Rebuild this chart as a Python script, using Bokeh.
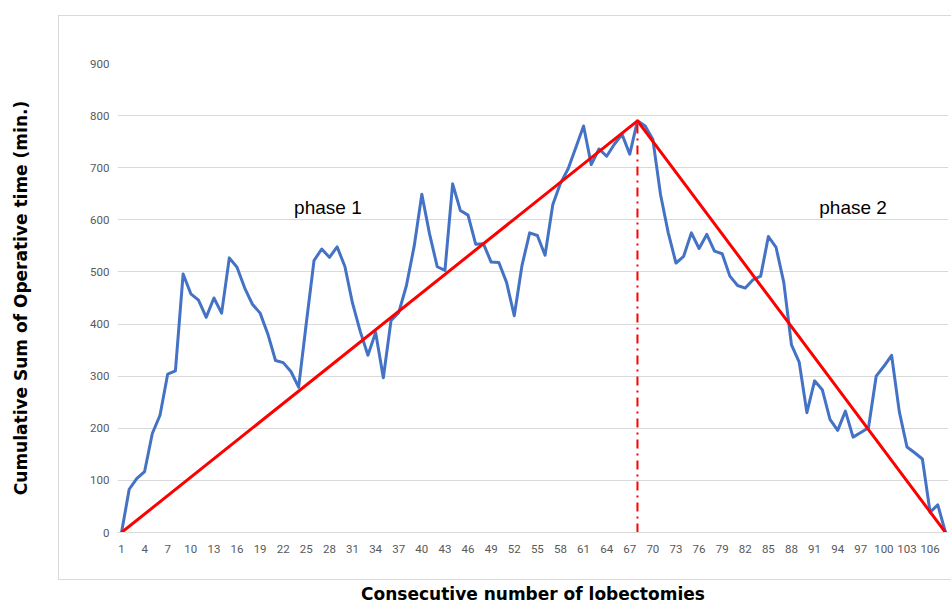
from bokeh.plotting import figure
from bokeh.models import Range1d, FixedTicker, ColumnDataSource
from bokeh.core.properties import value
from bokeh.embed import file_html
from bokeh.resources import INLINE

# ---- data -------------------------------------------------------------
case_no = list(range(1, 109))
cusum = [
    0, 83, 104, 117, 190, 225, 304, 310, 496, 458,
    446, 413, 450, 421, 527, 509, 469, 438, 421, 381,
    330, 326, 309, 279, 402, 522, 544, 528, 548, 511,
    440, 386, 340, 384, 297, 407, 422, 474, 549, 649,
    573, 510, 503, 669, 618, 609, 553, 554, 519, 518,
    480, 416, 512, 575, 570, 532, 629, 670, 698, 739,
    780, 706, 736, 722, 745, 764, 726, 790, 780, 754,
    648, 575, 517, 530, 575, 545, 572, 540, 535, 492,
    474, 469, 485, 492, 568, 547, 480, 360, 327, 230,
    291, 274, 217, 196, 233, 183, 192, 201, 300, 319,
    340, 232, 164, 153, 141, 39, 53, 0,
]
trend_x = [1, 68, 108]
trend_y = [0, 790, 0]
split_x = [68, 68]
split_y = [0, 790]
phase_x = [27.8, 96.0]
phase_y = [624, 624]
phase_labels = ["phase 1", "phase 2"]
x_ticks = [1, 4, 7, 10, 13, 16, 19, 22, 25, 28, 31, 34, 37, 40, 43, 46, 49, 52,
           55, 58, 61, 64, 67, 70, 73, 76, 79, 82, 85, 88, 91, 94, 97, 100, 103, 106]
y_ticks = [0, 100, 200, 300, 400, 500, 600, 700, 800, 900]

# light border of the chart area (CSS overlay on the figure element)
panel_css = """
:host { position: relative; }
:host::after {
  content: '';
  position: absolute;
  left: 58px; top: 15px; width: 900px; height: 563px;
  border: 1px solid #d9d9d9;
  pointer-events: none;
}
"""

# ---- figure -----------------------------------------------------------
p = figure(frame_width=831, frame_height=469,
           output_backend="svg", toolbar_location=None,
           x_range=Range1d(0.48, 108.39), y_range=Range1d(0, 900),
           min_border_left=117, min_border_right=1,
           min_border_top=63, min_border_bottom=10,
           stylesheets=[panel_css])
p.outline_line_color = None
p.background_fill_color = "white"
p.border_fill_color = "white"

tick_font = "'Liberation Sans Narrow', 'Roboto', sans-serif"
for ax in (p.xaxis[0], p.yaxis[0]):
    ax.major_tick_line_color = None
    ax.minor_tick_line_color = None
    ax.major_label_text_color = "#595959"
    ax.major_label_text_font = tick_font
    ax.major_label_text_font_size = "11.5px"
    ax.axis_label_text_font = "DejaVu Sans"
    ax.axis_label_text_font_style = "bold"
    ax.axis_label_text_font_size = "17px"
    ax.axis_label_text_color = "#000000"

p.xaxis.ticker = FixedTicker(ticks=x_ticks)
p.yaxis.ticker = FixedTicker(ticks=y_ticks)
p.xaxis.axis_line_color = "#d9d9d9"
p.yaxis.axis_line_color = None
p.xaxis.major_label_standoff = 6
p.yaxis.major_label_standoff = 2
p.xaxis.axis_label_standoff = 28
p.yaxis.axis_label_standoff = 56
p.xaxis.axis_label = "Consecutive number of lobectomies"
p.yaxis.axis_label = "Cumulative Sum of Operative time (min.)"

p.xgrid.grid_line_color = None
p.ygrid.grid_line_color = "#d9d9d9"
p.ygrid.grid_line_width = 1

src = ColumnDataSource(dict(x=case_no, y=cusum))
p.line("x", "y", source=src, line_color="#4472C4", line_width=3,
       line_join="round")
p.line(trend_x, trend_y, line_color="#FF0000", line_width=3)
p.line(split_x, split_y, line_color="#FF0000", line_width=2,
       line_dash="9 5 2 5")

p.text(x=phase_x, y=phase_y, text=phase_labels,
       text_font=value("Liberation Sans"), text_font_size="19px",
       text_color="#000000", text_align="center", text_baseline="middle")

open("out.html", "w").write(file_html(p, INLINE))
